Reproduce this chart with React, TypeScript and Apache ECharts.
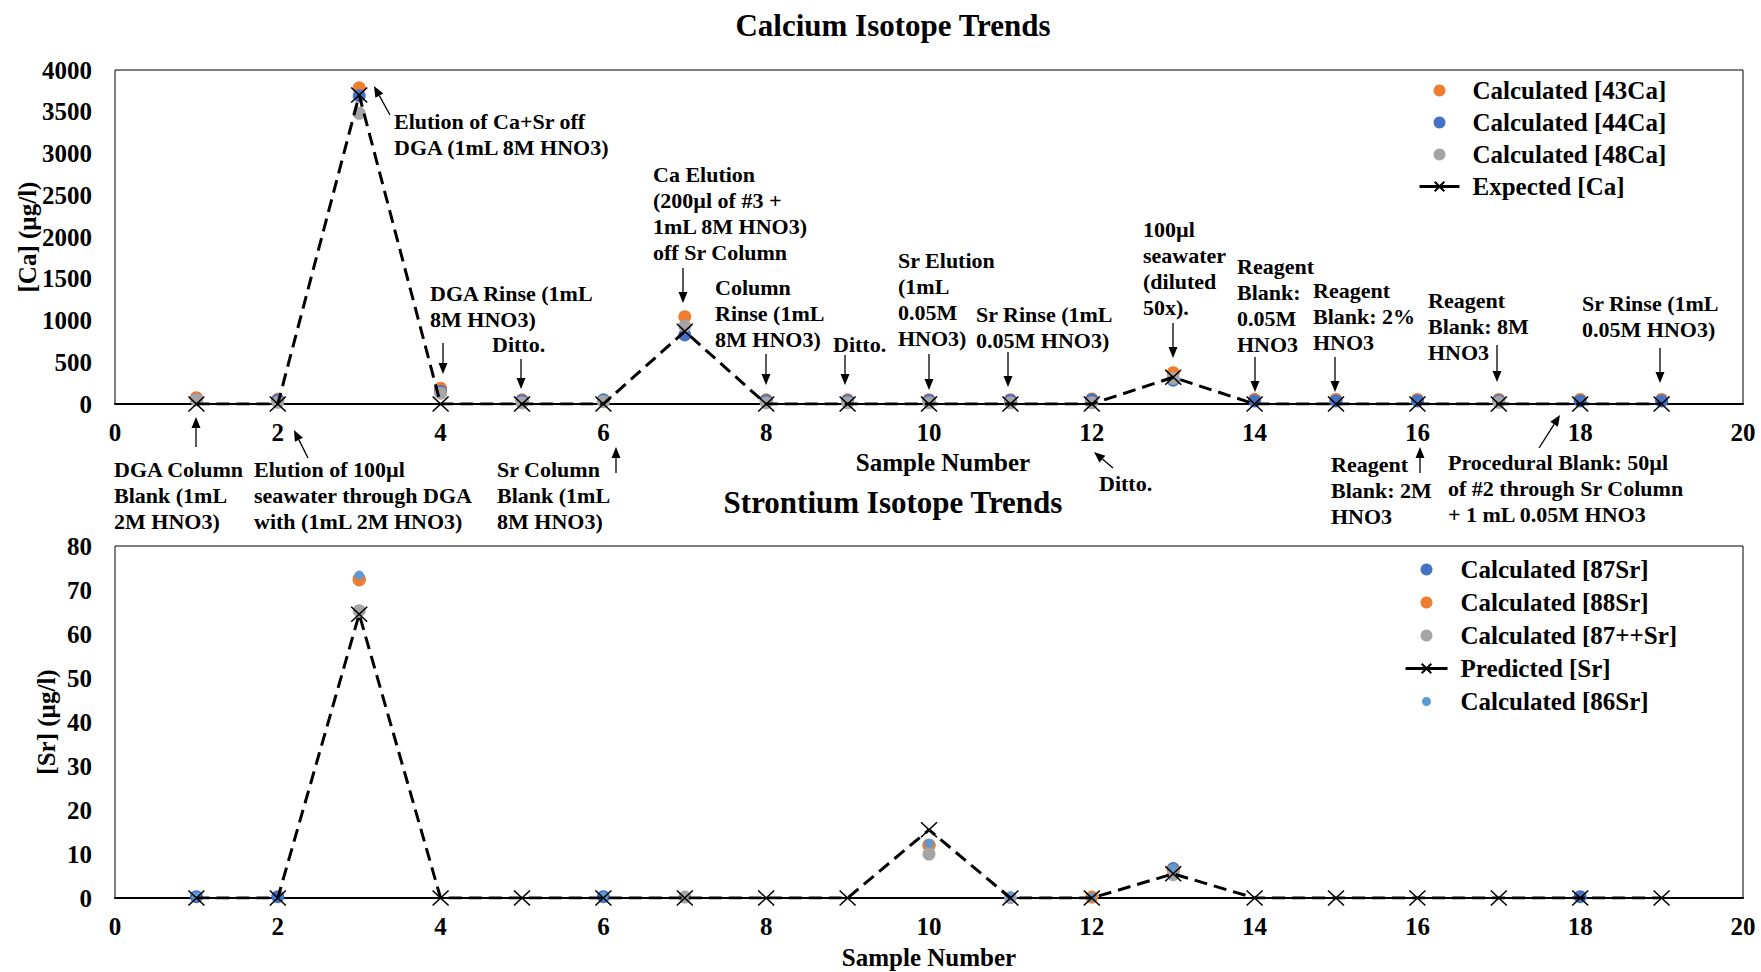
import React, { useEffect, useRef } from "react";
import * as echarts from "echarts";

// Sample numbers shared by both panels
const samples = [1, 2, 3, 4, 5, 6, 7, 8, 9, 10, 11, 12, 13, 14, 15, 16, 17, 18, 19];

// Calcium concentrations (µg/l)
const ca43 = [75, 56, 3786, 190, 50, 30, 1046, 50, 50, 52, 52, 60, 375, 56, 55, 55, 55, 55, 55];
const ca44 = [50, 45, 3693, 150, 40, 50, 827, 40, 40, 42, 42, 50, 285, 36, 36, 36, 40, 36, 36];
const ca48 = [50, 20, 3482, 130, 15, 30, 934, 15, 15, 15, 15, 15, 307, null, null, null, 20, null, null];
const caExpected = [0, 0, 3700, 0, 0, 0, 870, 0, 0, 0, 0, 0, 320, 0, 0, 0, 0, 0, 0];

// Strontium concentrations (µg/l)
const sr87 = [0.3, 0.3, 72.5, null, null, 0.3, null, null, null, 12.0, null, null, 6.7, null, null, null, null, 0.3, null];
const sr88 = [null, null, 72.3, null, null, null, null, null, null, 12.0, null, 0.2, 6.3, null, null, null, null, null, null];
const sr87pp = [null, null, 65.3, null, null, null, 0.2, null, null, 10.0, 0.1, null, 5.3, null, null, null, null, null, null];
const srPredicted = [0, 0, 64.5, 0, 0, 0, 0, 0, 0, 15.5, 0, 0, 5.5, 0, 0, 0, 0, 0, 0];
const sr86 = [0.4, null, 73.4, null, null, 0.4, null, null, null, 12.4, 0.4, 0.2, 6.8, null, null, null, null, null, null];

const xTicks = [0, 2, 4, 6, 8, 10, 12, 14, 16, 18, 20];

const FONT = '"Liberation Serif", "Times New Roman", serif';
const ORANGE = "#ED7D31";
const BLUE = "#4472C4";
const GRAY = "#A5A5A5";
const LIGHT_BLUE = "#5B9BD5";
const CROSS = "path://M0 0L10 10M10 0L0 10";

// Callout notes on the calcium panel: text, left edge, centre of first line, arrow (from -> tip)
const notes: { text: string; x: number; y: number; arrow: [number, number, number, number] }[] = [
  { text: "Elution of Ca+Sr off\nDGA (1mL 8M HNO3)", x: 394, y: 121, arrow: [390, 115, 374, 86] },
  { text: "Ca Elution\n(200µl of #3 +\n1mL 8M HNO3)\noff Sr Column", x: 653, y: 174, arrow: [683, 268, 683, 303] },
  { text: "DGA Rinse (1mL\n8M HNO3)", x: 430, y: 293, arrow: [443, 343, 443, 374] },
  { text: "Ditto.", x: 492, y: 344, arrow: [521, 359, 521, 389] },
  { text: "Column\nRinse (1mL\n8M HNO3)", x: 715, y: 287, arrow: [766, 354, 766, 385] },
  { text: "Ditto.", x: 833, y: 344, arrow: [845, 355, 845, 385] },
  { text: "Sr Elution\n(1mL\n0.05M\nHNO3)", x: 898, y: 260, arrow: [929, 354, 929, 390] },
  { text: "Sr Rinse (1mL\n0.05M HNO3)", x: 976, y: 314, arrow: [1008, 352, 1008, 387] },
  { text: "100µl\nseawater\n(diluted\n50x).", x: 1143, y: 229, arrow: [1173, 323, 1173, 358] },
  { text: "Reagent\nBlank:\n0.05M\nHNO3", x: 1237, y: 266, arrow: [1255, 357, 1255, 392] },
  { text: "Reagent\nBlank: 2%\nHNO3", x: 1313, y: 290, arrow: [1335, 357, 1335, 392] },
  { text: "Reagent\nBlank: 8M\nHNO3", x: 1428, y: 300, arrow: [1497, 345, 1497, 382] },
  { text: "Sr Rinse (1mL\n0.05M HNO3)", x: 1582, y: 303, arrow: [1660, 348, 1660, 383] },
  { text: "DGA Column\nBlank (1mL\n2M HNO3)", x: 114, y: 469, arrow: [196, 447, 196, 417] },
  { text: "Elution of 100µl\nseawater through DGA\nwith (1mL 2M HNO3)", x: 254, y: 469, arrow: [308, 458, 294, 430] },
  { text: "Sr Column\nBlank (1mL\n8M HNO3)", x: 497, y: 469, arrow: [616, 473, 616, 447] },
  { text: "Ditto.", x: 1099, y: 483, arrow: [1113, 468, 1094, 452] },
  { text: "Reagent\nBlank: 2M\nHNO3", x: 1331, y: 464, arrow: [1420, 473, 1420, 447] },
  { text: "Procedural Blank: 50µl\nof #2 through Sr Column\n+ 1 mL 0.05M HNO3", x: 1448, y: 462, arrow: [1539, 448, 1560, 415] },
];

function pairs(values: (number | null)[]) {
  const out: [number, number][] = [];
  values.forEach((v, i) => {
    if (v !== null) out.push([samples[i], v]);
  });
  return out;
}

function arrowShapes(x1: number, y1: number, x2: number, y2: number) {
  const dx = x2 - x1;
  const dy = y2 - y1;
  const len = Math.hypot(dx, dy);
  const ux = dx / len;
  const uy = dy / len;
  const headLen = 11;
  const halfW = 4.5;
  const bx = x2 - ux * headLen;
  const by = y2 - uy * headLen;
  const nx = -uy;
  const ny = ux;
  return [
    {
      type: "line",
      shape: { x1, y1, x2: bx, y2: by },
      style: { stroke: "#000", lineWidth: 1.3 },
    },
    {
      type: "polygon",
      shape: {
        points: [
          [x2, y2],
          [bx + nx * halfW, by + ny * halfW],
          [bx - nx * halfW, by - ny * halfW],
        ],
      },
      style: { fill: "#000" },
    },
  ];
}

const boldText = (size: number) => ({
  fontFamily: FONT,
  fontWeight: "bold" as const,
  fontSize: size,
  color: "#000",
});

function xAxisFor(gridIndex: number, nameGap: number, namePadLeft: number) {
  return {
    type: "value",
    gridIndex,
    min: 0,
    max: 20,
    interval: 2,
    name: "Sample Number",
    nameLocation: "middle",
    nameGap,
    nameMoveOverlap: false,
    nameTextStyle: { ...boldText(25), padding: [0, 0, 0, namePadLeft] },
    axisLine: { show: true, onZero: false, lineStyle: { color: "#000", width: 2 } },
    axisTick: { show: false },
    splitLine: { show: false },
    axisLabel: {
      ...boldText(25),
      margin: 16,
      formatter: (v: number) => (xTicks.includes(v) ? String(v) : ""),
    },
  };
}

function yAxisFor(gridIndex: number, max: number, interval: number, name: string, nameGap: number) {
  return {
    type: "value",
    gridIndex,
    min: 0,
    max,
    interval,
    name,
    nameLocation: "middle",
    nameGap,
    nameMoveOverlap: false,
    nameTextStyle: boldText(25),
    axisLine: { show: false },
    axisTick: { show: false },
    splitLine: { show: false },
    axisLabel: { ...boldText(25), margin: 23, formatter: (v: number) => String(v) },
  };
}

function scatter(name: string, values: (number | null)[], color: string, axis: number, size = 13) {
  return {
    type: "scatter",
    name,
    xAxisIndex: axis,
    yAxisIndex: axis,
    symbol: "circle",
    symbolSize: size,
    itemStyle: { color, opacity: 1 },
    data: pairs(values),
  };
}

function crossLine(name: string, values: number[], axis: number) {
  return {
    type: "line",
    name,
    xAxisIndex: axis,
    yAxisIndex: axis,
    symbol: CROSS,
    symbolSize: [16, 15],
    itemStyle: { color: "#000", borderColor: "#000", borderWidth: 1.5 },
    lineStyle: { color: "#000", width: 3, type: [13, 7] },
    data: pairs(values),
  };
}

const gridBase = {
  left: 115,
  width: 1628,
  show: true,
  borderColor: "#000",
  borderWidth: 1,
  backgroundColor: "transparent",
  containLabel: false,
  outerBoundsMode: "none",
};

export default function App() {
  const ref = useRef<HTMLDivElement>(null);

  useEffect(() => {
    document.body.style.margin = "0";
    if (!ref.current) return;
    const chart = echarts.init(ref.current, null, { renderer: "svg" });

    const graphics: any[] = [
      {
        type: "text",
        x: 893,
        y: 25,
        style: { text: "Calcium Isotope Trends", align: "center", verticalAlign: "middle", font: `bold 31px ${FONT}`, fill: "#000" },
      },
      {
        type: "text",
        x: 893,
        y: 502,
        style: { text: "Strontium Isotope Trends", align: "center", verticalAlign: "middle", font: `bold 31px ${FONT}`, fill: "#000" },
      },
    ];
    notes.forEach((n) => {
      graphics.push({
        type: "text",
        x: n.x,
        y: n.y - 13,
        style: {
          text: n.text,
          align: "left",
          verticalAlign: "top",
          font: `bold 22px ${FONT}`,
          lineHeight: 26,
          fill: "#000",
        },
      });
      graphics.push(...arrowShapes(...n.arrow));
    });

    const legendText = { ...boldText(25), padding: [0, 0, 0, 8] };
    const crossLegend = (name: string) => ({
      name,
      lineStyle: { type: "solid", width: 3 },
    });

    chart.setOption({
      animation: false,
      backgroundColor: "#fff",
      grid: [
        { ...gridBase, top: 70, height: 334 },
        { ...gridBase, top: 546, height: 352 },
      ],
      xAxis: [xAxisFor(0, 46, 28), xAxisFor(1, 47, 0)],
      yAxis: [
        yAxisFor(0, 4000, 500, "[Ca] (µg/l)", 75),
        yAxisFor(1, 80, 10, "[Sr] (µg/l)", 56),
      ],
      legend: [
        {
          orient: "vertical",
          left: 1413,
          top: 73,
          itemWidth: 40,
          itemHeight: 12,
          itemGap: 7,
          selectedMode: false,
          textStyle: legendText,
          data: ["Calculated [43Ca]", "Calculated [44Ca]", "Calculated [48Ca]", crossLegend("Expected [Ca]")],
        },
        {
          orient: "vertical",
          left: 1399,
          top: 552,
          itemWidth: 42,
          itemHeight: 12,
          itemGap: 8,
          selectedMode: false,
          textStyle: legendText,
          data: [
            "Calculated [87Sr]",
            "Calculated [88Sr]",
            "Calculated [87++Sr]",
            crossLegend("Predicted [Sr]"),
            { name: "Calculated [86Sr]", icon: "path://M0 0M16 16M8 2A6 6 0 1 1 8 14A6 6 0 1 1 8 2Z" },
          ],
        },
      ],
      series: [
        scatter("Calculated [43Ca]", ca43, ORANGE, 0),
        scatter("Calculated [44Ca]", ca44, BLUE, 0),
        scatter("Calculated [48Ca]", ca48, GRAY, 0),
        crossLine("Expected [Ca]", caExpected, 0),
        scatter("Calculated [87Sr]", sr87, BLUE, 1),
        scatter("Calculated [88Sr]", sr88, ORANGE, 1),
        scatter("Calculated [87++Sr]", sr87pp, GRAY, 1),
        crossLine("Predicted [Sr]", srPredicted, 1),
        scatter("Calculated [86Sr]", sr86, LIGHT_BLUE, 1, 9),
      ],
      graphic: graphics,
    });

    return () => chart.dispose();
  }, []);

  return <div ref={ref} style={{ width: 1761, height: 972 }} />;
}
